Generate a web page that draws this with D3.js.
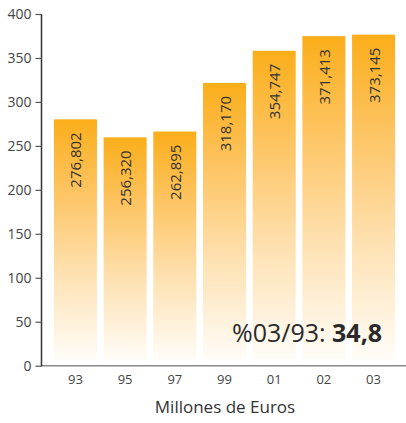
<!DOCTYPE html>
<html><head><meta charset="utf-8">
<script src="https://cdn.jsdelivr.net/npm/d3@7"></script>
<style>html,body{margin:0;padding:0;background:#fff;}svg{display:block;}</style>
</head><body>
<script>
const years = ["93","95","97","99","01","02","03"];
const values = [276.802, 256.320, 262.895, 318.170, 354.747, 371.413, 373.145];
const yTicks = [0,50,100,150,200,250,300,350,400];
const axisTitle = "Millones de Euros";
const notePrefix = "%03/93: ";
const noteValue = "34,8";

const W = 406, H = 423;
const FONT = "'Open Sans', 'Noto Sans', sans-serif";
const svg = d3.select("body").append("svg").attr("width", W).attr("height", H);

const y = d3.scaleLinear().domain([0,400]).range([365.7, 14]);
const x = d3.scaleBand().domain(years).range([42, 407]).paddingInner(0.134).paddingOuter(0.24);

const defs = svg.append("defs");
const g = defs.append("linearGradient").attr("id","barGrad").attr("x1",0).attr("y1",0).attr("x2",0).attr("y2",1);
[[0,"#FBAE1A"],[0.3,"#FDC462"],[0.65,"#FEE2B4"],[1,"#FFFDF9"]].forEach(([o,c])=>g.append("stop").attr("offset",o).attr("stop-color",c));

const loc = d3.formatLocale({decimal:",", thousands:".", grouping:[3], currency:["","€"]});
const fmt = loc.format(".3f");

// bars
svg.append("g").selectAll("rect").data(values).join("rect")
  .attr("x",(d,i)=>x(years[i]))
  .attr("width",x.bandwidth())
  .attr("y",d=>y(d)-3)
  .attr("height",d=>(y(0)-5)-(y(d)-3))
  .attr("fill","url(#barGrad)");

// value labels
svg.append("g").selectAll("text").data(values).join("text")
  .attr("transform",(d,i)=>`translate(${x(years[i])+x.bandwidth()/2},${y(d)+10}) rotate(-90)`)
  .attr("text-anchor","end").attr("dominant-baseline","central")
  .attr("font-family",FONT).attr("font-size",15).attr("fill","#333")
  .text(d=>fmt(d));

// x axis
const xa = svg.append("g").attr("transform",`translate(0,${y(0)})`)
  .call(d3.axisBottom(x).tickSize(0).tickPadding(9));
xa.select(".domain").remove();
xa.append("line").attr("x1",41).attr("x2",406).attr("y1",0).attr("y2",0).attr("stroke","#8a8a8a").attr("stroke-width",1.5);
xa.selectAll("text").attr("font-family",FONT).attr("font-size",13).attr("fill","#444");

// y axis
const ya = svg.append("g").attr("transform","translate(41.5,0)")
  .call(d3.axisLeft(y).tickValues(yTicks).tickSize(6).tickPadding(4));
ya.select(".domain").attr("stroke","#333").attr("stroke-width",1.5).attr("d",`M0,${y(400)}V${y(0)+0.5}`);
ya.selectAll(".tick line").attr("stroke","#555").attr("stroke-width",1.2);
ya.selectAll("text").attr("font-family",FONT).attr("font-size",14).attr("fill","#444");

// axis title
svg.append("text").attr("x",225).attr("y",413).attr("text-anchor","middle")
  .attr("font-family",FONT).attr("font-size",17).attr("fill","#333").text(axisTitle);

// annotation
const note = svg.append("text").attr("x",232).attr("y",342)
  .attr("font-family",FONT).attr("font-size",25).attr("fill","#2a2a2a");
note.append("tspan").text(notePrefix);
note.append("tspan").attr("font-weight","bold").text(noteValue);
</script>
</body></html>
